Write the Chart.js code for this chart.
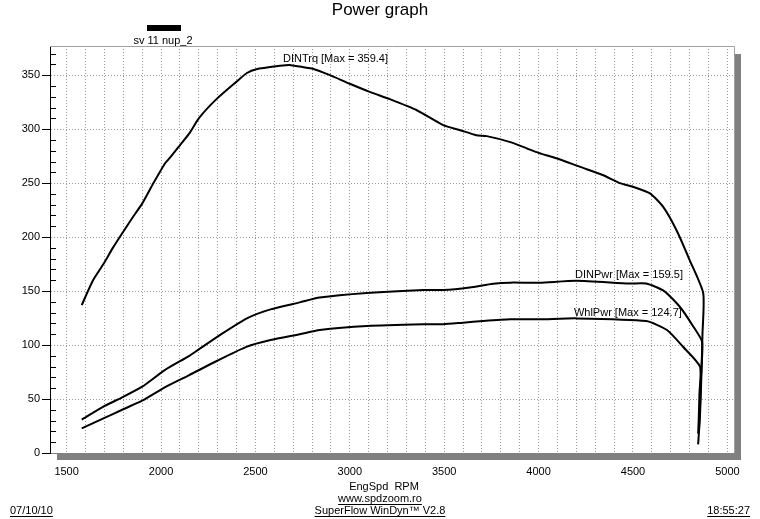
<!DOCTYPE html>
<html>
<head>
<meta charset="utf-8">
<script src="https://cdn.jsdelivr.net/npm/chart.js@4.4.1/dist/chart.umd.min.js"></script>
<style>
  html, body { margin: 0; padding: 0; background: #fff; }
  #wrap { width: 760px; height: 519px; }
</style>
</head>
<body>
<div id="wrap"><canvas id="dyno"></canvas></div>
<script>
// torque curve (rpm, Nm)
const trqRpm = [1580, 1640, 1695, 1745, 1800, 1845, 1900, 1960, 2020, 2050, 2100, 2150, 2200, 2295, 2400, 2455, 2505, 2630, 2680, 2750, 2805, 2895, 3000, 3105, 3215, 3355, 3495, 3585, 3670, 3725, 3850, 3940, 4000, 4095, 4220, 4340, 4430, 4500, 4590, 4660, 4730, 4800, 4872, 4868, 4862, 4855, 4845];
const trqVals = [137, 160, 175, 190, 205, 217, 231, 250, 268, 274, 285, 296, 310, 328, 344, 352, 355.5, 358.6, 359.4, 357.5, 356, 350, 342, 334.5, 327.5, 317.5, 303.7, 299, 294.4, 293.5, 288, 282, 278, 273, 265, 257.5, 250, 246.6, 240.5, 228, 206.5, 178.7, 148, 110, 70, 35, 8];

// DIN power
const dinRpm = [1580, 1695, 1800, 1900, 2020, 2150, 2200, 2310, 2455, 2580, 2735, 2840, 3090, 3390, 3495, 3635, 3760, 3850, 4005, 4200, 4480, 4570, 4665, 4750, 4820, 4866, 4860, 4855, 4850];
const dinPwr = [31, 43, 52, 61.4, 76.8, 90, 96, 109, 124.7, 133, 139.5, 144, 148.2, 151, 151, 153.4, 156.8, 157.8, 157.7, 159.5, 157, 157, 150, 135, 117, 103, 70, 45, 25];

// wheel power
const whlRpm = [1580, 1695, 1800, 1900, 2020, 2150, 2295, 2455, 2580, 2735, 2840, 3090, 3390, 3495, 3600, 3705, 3850, 4005, 4200, 4570, 4680, 4765, 4855, 4852, 4848, 4845];
const whlPwr = [22.8, 32, 40.5, 48.5, 60.8, 72.2, 85.2, 98.5, 104.6, 110, 113.9, 117.6, 119.2, 119.2, 120.7, 122.2, 123.8, 123.8, 124.7, 122.2, 113.9, 98.4, 80, 55, 30, 18];

// curve labels, anchored in data coords
const curveLabels = ['DINTrq [Max = 359.4]', 'DINPwr [Max = 159.5]', 'WhlPwr [Max = 124.7]'];
const labelRpm = [2646, 4193, 4187];
const labelVal = [364.8, 164.8, 129.6];

const xTicks = [];
for (let r = 1500; r <= 5000; r += 100) xTicks.push(r);

const FONT = '"Liberation Sans", Arial, sans-serif';

function pts(xs, ys) {
  return xs.map((x, i) => ({ x: x, y: ys[i] }));
}

const decor = {
  id: 'decor',
  beforeDraw(chart) {
    const c = chart.ctx, a = chart.chartArea;
    c.save();
    c.fillStyle = '#fff';
    c.fillRect(0, 0, chart.width, chart.height);
    // drop shadow
    c.fillStyle = '#808080';
    c.fillRect(a.left + 7, a.top + 8, a.right - a.left, a.bottom - a.top - 1);
    c.fillStyle = '#fff';
    c.fillRect(a.left, a.top, a.right - a.left, a.bottom - a.top);
    c.restore();
  },
  afterDraw(chart) {
    const c = chart.ctx, a = chart.chartArea;
    const xs = chart.scales.x, ys = chart.scales.y;
    c.save();
    // top/right frame
    c.strokeStyle = '#a0a0a0';
    c.lineWidth = 1;
    c.beginPath();
    c.moveTo(a.left, a.top + 0.5);
    c.lineTo(a.right + 0.5, a.top + 0.5);
    c.lineTo(a.right + 0.5, a.bottom);
    c.stroke();
    // minor ticks inside y axis
    c.strokeStyle = '#000';
    c.beginPath();
    for (let v = 10; v < 377; v += 10) {
      if (v % 50 === 0) continue;
      const y = Math.round(ys.getPixelForValue(v)) + 0.5;
      c.moveTo(a.left, y);
      c.lineTo(a.left + 6, y);
    }
    c.stroke();

    c.fillStyle = '#000';
    c.font = '11px ' + FONT;
    c.textBaseline = 'middle';
    c.textAlign = 'left';
    curveLabels.forEach((t, i) => {
      c.fillText(t, xs.getPixelForValue(labelRpm[i]), ys.getPixelForValue(labelVal[i]));
    });

    // title + run name
    c.textAlign = 'center';
    c.font = '17px ' + FONT;
    c.fillText('Power graph', 380, 10);
    c.fillRect(147, 25, 34, 6);
    c.font = '11px ' + FONT;
    c.fillText('sv 11 nup_2', 163, 41);

    // axis title + footer
    c.fillText('EngSpd  RPM', 384, 487);
    const under = (t, x, y, align) => {
      c.textAlign = align;
      c.fillText(t, x, y);
      const w = c.measureText(t).width;
      const x0 = align === 'center' ? x - w / 2 : align === 'right' ? x - w : x;
      c.fillRect(x0, y + 5, w, 1);
    };
    under('www.spdzoom.ro', 380, 499, 'center');
    under('SuperFlow WinDyn\u2122 V2.8', 380, 511, 'center');
    under('07/10/10', 10, 511, 'left');
    under('18:55:27', 750, 511, 'right');
    c.restore();
  }
};

const line = (data) => ({
  data: data,
  borderColor: '#000',
  borderWidth: 2,
  pointRadius: 0,
  tension: 0.2,
  fill: false
});

new Chart(document.getElementById('dyno'), {
  type: 'line',
  data: {
    datasets: [
      line(pts(trqRpm, trqVals)),
      line(pts(dinRpm, dinPwr)),
      line(pts(whlRpm, whlPwr))
    ]
  },
  options: {
    responsive: true,
    maintainAspectRatio: false,
    animation: false,
    layout: { padding: { top: 46, right: 26, left: 0, bottom: 0 } },
    plugins: { legend: { display: false }, tooltip: { enabled: false } },
    scales: {
      x: {
        type: 'linear',
        min: 1412,
        max: 5035,
        afterBuildTicks: (s) => { s.ticks = xTicks.map(v => ({ value: v })); },
        afterFit: (s) => { s.height = 66; },
        ticks: {
          autoSkip: false,
          maxRotation: 0,
          padding: 12,
          color: '#000',
          font: { family: FONT, size: 11 },
          callback: (v) => (v % 500 === 0 ? String(v) : '')
        },
        grid: { color: '#9a9a9a', drawTicks: false },
        border: { color: '#808080', dash: [1, 2] }
      },
      y: {
        min: 0,
        max: 377,
        afterFit: (s) => { s.width = 50; },
        ticks: {
          stepSize: 10,
          includeBounds: false,
          autoSkip: false,
          padding: 2,
          color: '#000',
          font: { family: FONT, size: 11 },
          callback: (v) => (v % 50 === 0 ? String(v) : '')
        },
        grid: {
          color: (ctx) => (ctx.tick && ctx.tick.value % 50 === 0 ? '#9a9a9a' : 'rgba(0,0,0,0)'),
          tickColor: (ctx) => (ctx.tick && ctx.tick.value % 50 === 0 ? '#000' : 'rgba(0,0,0,0)'),
          tickLength: 8
        },
        border: { color: '#000', dash: [1, 2] }
      }
    }
  },
  plugins: [decor]
});
</script>
</body>
</html>
